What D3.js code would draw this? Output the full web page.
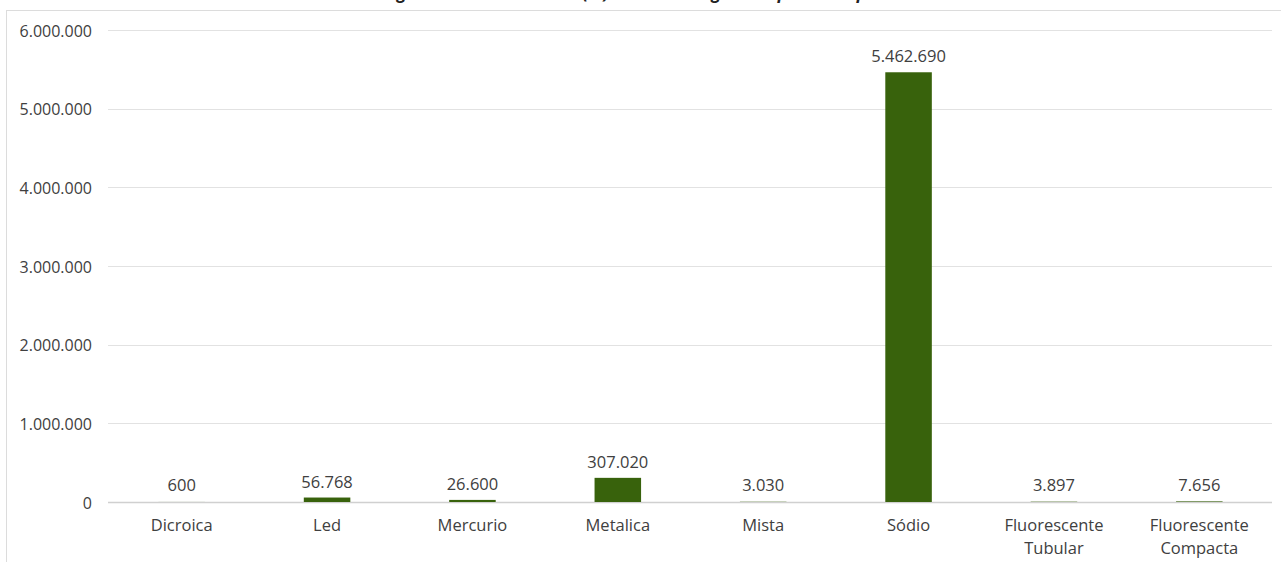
<!DOCTYPE html>
<html><head><meta charset="utf-8">
<script src="https://cdn.jsdelivr.net/npm/d3@7"></script>
<style>
html,body{margin:0;padding:0;background:#fff;}
svg{display:block;font-family:"Open Sans",sans-serif;}
</style></head>
<body>
<svg id="c" width="1281" height="562"></svg>
<script>
const categories = ["Dicroica","Led","Mercurio","Metalica","Mista","Sódio","Fluorescente\nTubular","Fluorescente\nCompacta"];
const values = [600,56768,26600,307020,3030,5462690,3897,7656];
const yTicks = [0,1000000,2000000,3000000,4000000,5000000,6000000];
const titleText = "Figura 3 – Potência total (W) instalada segundo tipo de lâmpada";

const svg = d3.select("#c");
const fmt = v => d3.format(",")(v).replace(/,/g,".");
const m = {left:109, right:1272, top:30, bottom:502};

// frame
svg.append("rect").attr("x",6.5).attr("y",10.5).attr("width",1290).attr("height",600)
  .attr("fill","none").attr("stroke","#dcdcdc");

// title, cropped at the top edge as in the reference (only descenders visible)
svg.append("text").attr("x",640).attr("y",-1).attr("text-anchor","middle")
  .attr("font-size",17).attr("font-style","italic").attr("font-weight","bold")
  .attr("fill","#222").text(titleText);

const x = d3.scaleBand().domain(categories).range([m.left,m.right]).paddingInner(0.68).paddingOuter(0.34);
const y = d3.scaleLinear().domain([0,6000000]).range([m.bottom,m.top]);

// gridlines
svg.append("g").selectAll("line").data(yTicks).join("line")
  .attr("x1",m.left-1).attr("x2",m.right)
  .attr("y1",d=>Math.round(y(d))+0.5).attr("y2",d=>Math.round(y(d))+0.5)
  .attr("stroke",d=>d===0?"#d0d0d0":"#e2e2e2").attr("stroke-width",d=>d===0?1.6:1);

// y axis labels
const yAxis = d3.axisLeft(y).tickValues(yTicks).tickFormat(fmt).tickSize(0).tickPadding(0);
const ga = svg.append("g").attr("transform",`translate(92,1)`).call(yAxis);
ga.select(".domain").remove();
ga.selectAll("text").attr("font-size",16).attr("fill","#404040").attr("font-family","Open Sans");

// bars
svg.append("g").selectAll("rect").data(values).join("rect")
  .attr("x",(d,i)=>x(categories[i])).attr("width",x.bandwidth())
  .attr("y",d=>y(d)).attr("height",d=>y(0)-y(d))
  .attr("fill","#38620c");

// data labels
svg.append("g").selectAll("text").data(values).join("text")
  .attr("x",(d,i)=>x(categories[i])+x.bandwidth()/2)
  .attr("y",d=>Math.min(y(d),y(0)-1)-10)
  .attr("text-anchor","middle").attr("font-size",16.5).attr("fill","#404040")
  .text(d=>fmt(d));

// category labels
const cl = svg.append("g").selectAll("text").data(categories).join("text")
  .attr("x",d=>x(d)+x.bandwidth()/2).attr("y",531)
  .attr("text-anchor","middle").attr("font-size",16.5).attr("fill","#404040");
cl.each(function(d){
  const t = d3.select(this);
  d.split("\n").forEach((s,k)=>{
    t.append("tspan").attr("x",x(d)+x.bandwidth()/2).attr("dy",k===0?0:23).text(s);
  });
});
</script>
</body></html>
